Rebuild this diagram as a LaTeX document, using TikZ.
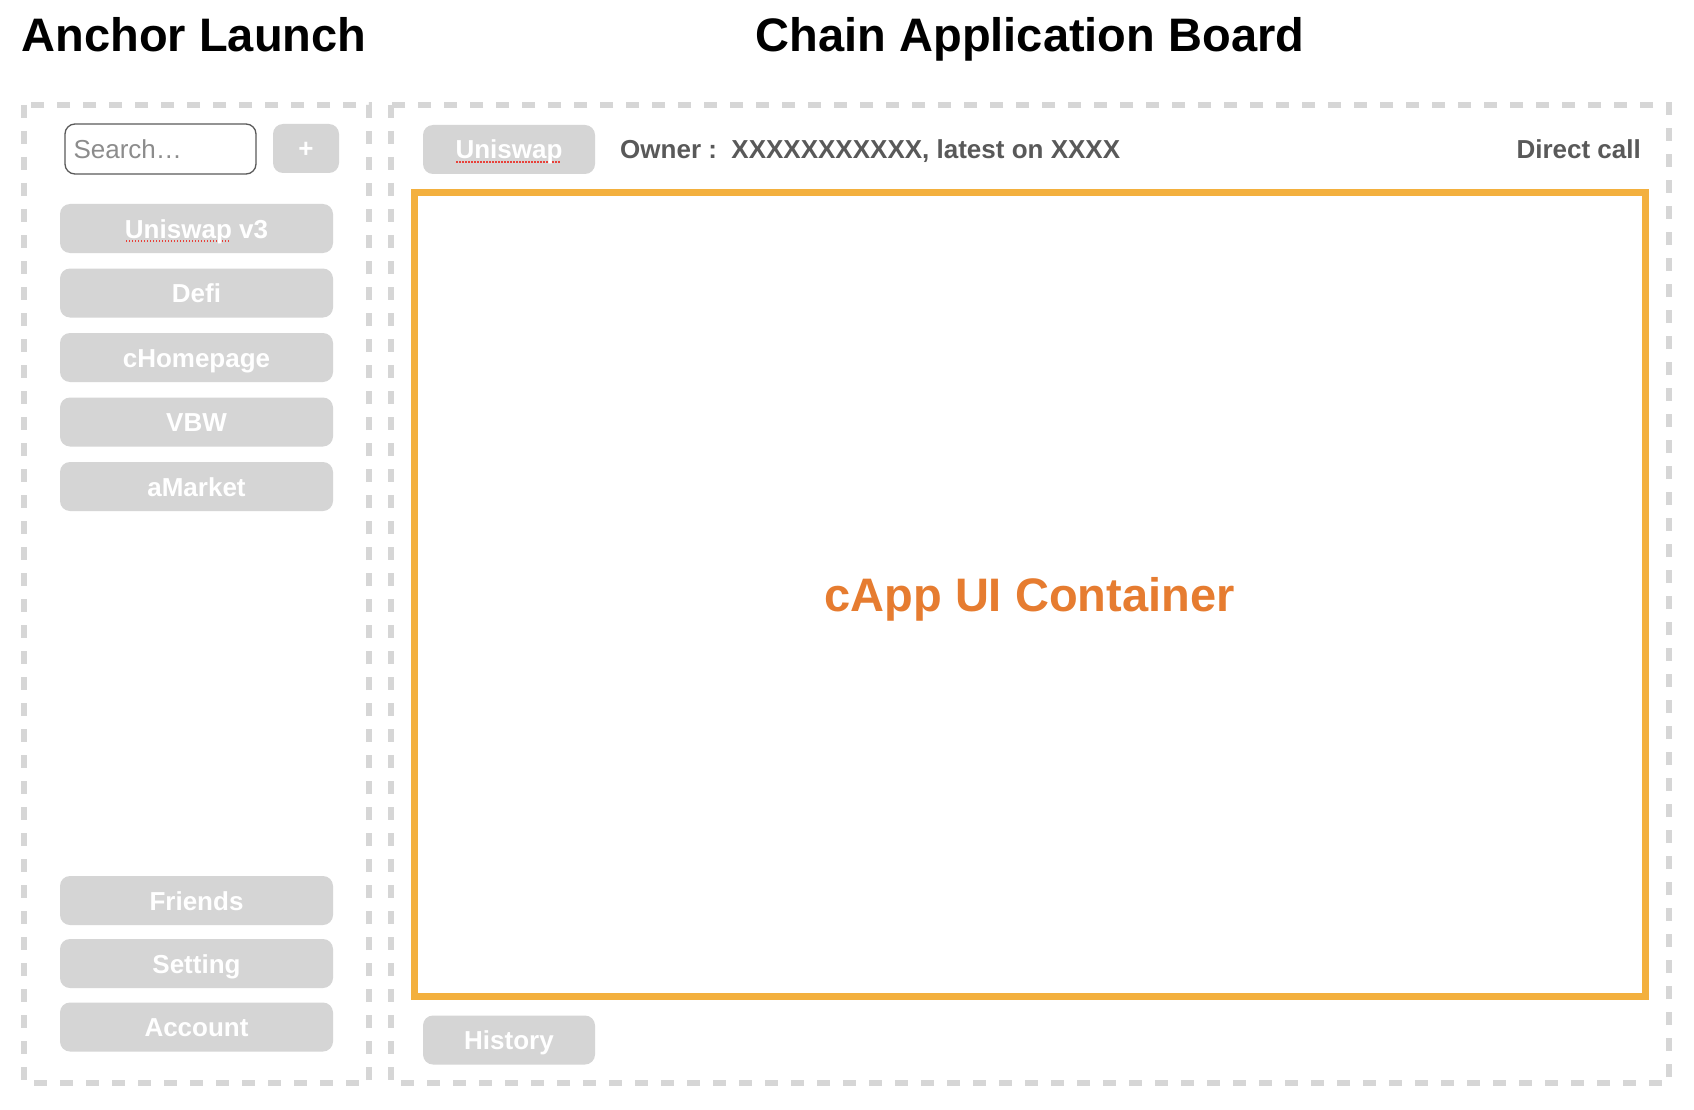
\documentclass[tikz,border=0pt]{standalone}
\usepackage{fontspec}
\setmainfont{Liberation Sans}
\usepackage{xcolor}
\definecolor{dashgray}{HTML}{D6D6D6}
\definecolor{btngray}{HTML}{D5D5D5}
\definecolor{capporange}{HTML}{F3B03E}
\definecolor{capptext}{HTML}{E67C30}
\definecolor{infotext}{HTML}{595959}
\definecolor{boxline}{HTML}{5A5A5A}
\definecolor{placeholder}{HTML}{8C8C8C}
\definecolor{spellred}{HTML}{E8413A}
\newsavebox\spellbox
\newcommand\spellchk[1]{\sbox\spellbox{#1}\rlap{\textcolor{spellred}{\leaders\hbox to 3pt{\hss\vrule height -2.2pt depth 4pt width 1.6pt\hss}\hskip\wd\spellbox}}\usebox\spellbox}
\tikzset{
  panel/.style={draw=dashgray, line width=6pt, dash pattern=on 13pt off 13pt},
  btn/.style={fill=btngray, rounded corners=10pt, text=white, font=\bfseries\fontsize{26}{30}\selectfont,
    text height=19pt, text depth=0pt, inner sep=0pt, minimum height=49pt},
  sidebtn/.style={btn, minimum width=273pt},
  topbtn/.style={btn, minimum width=172pt},
  title/.style={font=\bfseries\fontsize{47}{52}\selectfont, text=black, inner sep=0pt, anchor=base},
  info/.style={font=\bfseries\fontsize{26}{30}\selectfont, text=infotext, inner sep=0pt},
}
\begin{document}
\begin{tikzpicture}[x=1pt,y=-1pt]
\useasboundingbox[fill=white] (0,0) rectangle (1694,1110);
% titles
\node[title] (t1) at (194,52) {Anchor Launch};
\node[title] (t2) at (1030,52) {Chain Application Board};
% panels
\draw[panel] (24,105) rectangle (369,1083);
\draw[panel] (391,105) rectangle (1669,1083);
% search row
\node[draw=boxline, line width=1.3pt, rounded corners=10pt, minimum width=191pt, minimum height=50pt, inner sep=0pt] (search) at (160.5,149) {};
\node[anchor=west, inner sep=0pt, text=placeholder, font=\fontsize{26}{30}\selectfont, text height=19pt, text depth=0pt] (searchtxt) at ([xshift=9pt]search.west) {Search…};
\node[btn, minimum width=66pt] (plus) at (306,148.5) {+};
% side buttons
\node[sidebtn] (b1) at (196.5,228.5) {\spellchk{Uniswap} v3};
\node[sidebtn] (b2) at (196.5,293) {Defi};
\node[sidebtn] (b3) at (196.5,357.5) {cHomepage};
\node[sidebtn] (b4) at (196.5,422) {VBW};
\node[sidebtn] (b5) at (196.5,486.5) {aMarket};
\node[sidebtn] (b6) at (196.5,900.5) {Friends};
\node[sidebtn] (b7) at (196.5,963.5) {Setting};
\node[sidebtn] (b8) at (196.5,1027) {Account};
% right header
\node[topbtn] (uni) at (509,149.5) {\spellchk{Uniswap}};
\node[info, anchor=base west] (owner) at (620,159) {Owner :\ \ XXXXXXXXXXX, latest on XXXX};
\node[info, anchor=base east] (direct) at (1641,159) {Direct call};
% container
\node[draw=capporange, line width=7pt, minimum width=1231pt, minimum height=803pt, inner sep=0pt] (cont) at (1029.5,594.5) {};
\node[font=\bfseries\fontsize{47}{54}\selectfont, text=capptext, inner sep=0pt, text height=34pt, text depth=0pt] (conttxt) at (cont.center) {cApp UI Container};
% history
\node[topbtn] (hist) at (509,1040) {History};
\end{tikzpicture}
\end{document}
